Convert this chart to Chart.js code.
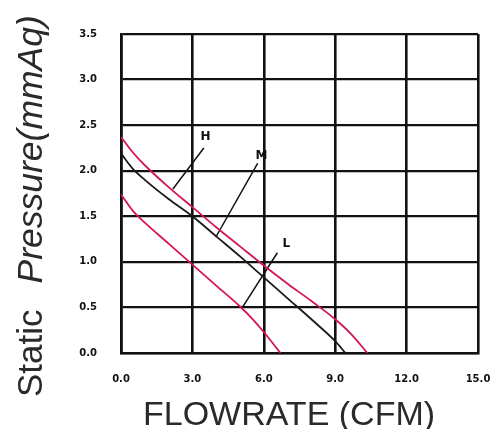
<!DOCTYPE html>
<html>
<head>
<meta charset="utf-8">
<script src="https://cdn.jsdelivr.net/npm/chart.js@4.4.0/dist/chart.umd.min.js"></script>
<style>
html,body{margin:0;padding:0;background:#fff;}
#wrap{width:504px;height:429px;position:relative;}
</style>
</head>
<body>
<div id="wrap"><canvas id="c" width="504" height="429"></canvas></div>
<script>
// ---- data ----
const xTicks = [0, 3, 6, 9, 12, 15];
const yTicks = [0, 0.5, 1, 1.5, 2, 2.5, 3, 3.5];

const hFlow = [0, 0.5, 1, 2, 3, 4, 5, 6, 7, 8, 9, 9.7, 10.35];
const hPres = [2.37, 2.2, 2.06, 1.82, 1.6, 1.38, 1.17, 0.96, 0.76, 0.57, 0.37, 0.2, 0];

const mFlow = [0, 0.5, 1, 2, 3, 4, 5, 6, 7, 8, 9, 9.43];
const mPres = [2.19, 2.02, 1.9, 1.69, 1.5, 1.28, 1.06, 0.83, 0.6, 0.37, 0.13, 0];

const lFlow = [0, 0.5, 1, 2, 3, 4, 5, 5.5, 6, 6.7];
const lPres = [1.74, 1.56, 1.43, 1.2, 0.97, 0.74, 0.51, 0.38, 0.23, 0];

// leader lines (data units): from curve to label
const leaderNames = ['H', 'M', 'L'];
const leaderFromX = [2.18, 3.98, 5.1];
const leaderFromY = [1.8, 1.27, 0.5];
const leaderToX = [3.48, 5.74, 6.57];
const leaderToY = [2.25, 2.08, 1.1];
const labelX = [3.55, 5.9, 6.95];
const labelY = [2.37, 2.16, 1.2];

const xTitle = 'FLOWRATE (CFM)';
const yTitleA = 'Static';
const yTitleB = 'Pressure(mmAq)';

const toPts = (xs, ys) => xs.map((x, i) => ({x: x, y: ys[i]}));

const RED = '#d4145a';
const datasets = [
  {label: 'H', data: toPts(hFlow, hPres), borderColor: RED, borderWidth: 1.8},
  {label: 'M', data: toPts(mFlow, mPres), borderColor: '#1a1a1a', borderWidth: 1.8},
  {label: 'L', data: toPts(lFlow, lPres), borderColor: RED, borderWidth: 1.8}
];
datasets.forEach(d => { d.cubicInterpolationMode = 'monotone'; });
leaderNames.forEach((n, i) => {
  datasets.push({
    label: 'leader ' + n,
    data: [{x: leaderFromX[i], y: leaderFromY[i]}, {x: leaderToX[i], y: leaderToY[i]}],
    borderColor: '#111', borderWidth: 1.5
  });
});
datasets.forEach(d => { d.showLine = true; d.pointRadius = 0; d.fill = false; });

const textPlugin = {
  id: 'texts',
  afterDraw(chart) {
    const ctx = chart.ctx;
    const xs = chart.scales.x, ys = chart.scales.y;
    ctx.save();
    // curve labels
    ctx.fillStyle = '#111';
    ctx.font = 'bold 12px "DejaVu Sans", sans-serif';
    ctx.textAlign = 'center';
    ctx.textBaseline = 'middle';
    leaderNames.forEach((n, i) => {
      ctx.fillText(n, xs.getPixelForValue(labelX[i]), ys.getPixelForValue(labelY[i]));
    });
    // x title
    ctx.fillStyle = '#2a2a2a';
    ctx.font = '34px "Liberation Sans", Arial, sans-serif';
    ctx.textAlign = 'center';
    ctx.textBaseline = 'alphabetic';
    ctx.fillText(xTitle, 289, 425);
    // y title (rotated)
    ctx.translate(42, 397);
    ctx.rotate(-Math.PI / 2);
    ctx.textAlign = 'left';
    ctx.font = '35px "Liberation Sans", Arial, sans-serif';
    ctx.fillText(yTitleA, 0, 0);
    const wA = ctx.measureText(yTitleA).width;
    ctx.font = 'italic 35.5px "Liberation Sans", Arial, sans-serif';
    ctx.fillText(yTitleB, wA + 26, 0);
    ctx.restore();
  }
};

new Chart(document.getElementById('c'), {
  type: 'scatter',
  data: {datasets: datasets},
  options: {
    responsive: false,
    animation: false,
    layout: {padding: {top: 34, right: 26, left: 0, bottom: 0}},
    plugins: {legend: {display: false}, tooltip: {enabled: false}},
    scales: {
      x: {
        type: 'linear', min: 0, max: 15,
        afterBuildTicks: s => { s.ticks = xTicks.map(v => ({value: v})); },
        afterFit: s => { s.height = 76; s.paddingRight = 0; s.paddingLeft = 0; },
        grid: {color: '#111', lineWidth: 2.6, drawTicks: false},
        border: {color: '#111', width: 2.6},
        ticks: {
          padding: 20, color: '#111',
          font: {family: '"DejaVu Sans", sans-serif', size: 10, weight: 'bold'},
          callback: v => Number(v).toFixed(1)
        }
      },
      y: {
        type: 'linear', min: 0, max: 3.5,
        afterBuildTicks: s => { s.ticks = yTicks.map(v => ({value: v})); },
        afterFit: s => { s.width = 121; s.paddingTop = 0; s.paddingBottom = 0; },
        grid: {color: '#111', lineWidth: 2.2, drawTicks: false},
        border: {color: '#111', width: 2.6},
        ticks: {
          padding: 24, color: '#111',
          font: {family: '"DejaVu Sans", sans-serif', size: 10, weight: 'bold'},
          callback: v => Number(v).toFixed(1)
        }
      }
    }
  },
  plugins: [textPlugin]
});
</script>
</body>
</html>
